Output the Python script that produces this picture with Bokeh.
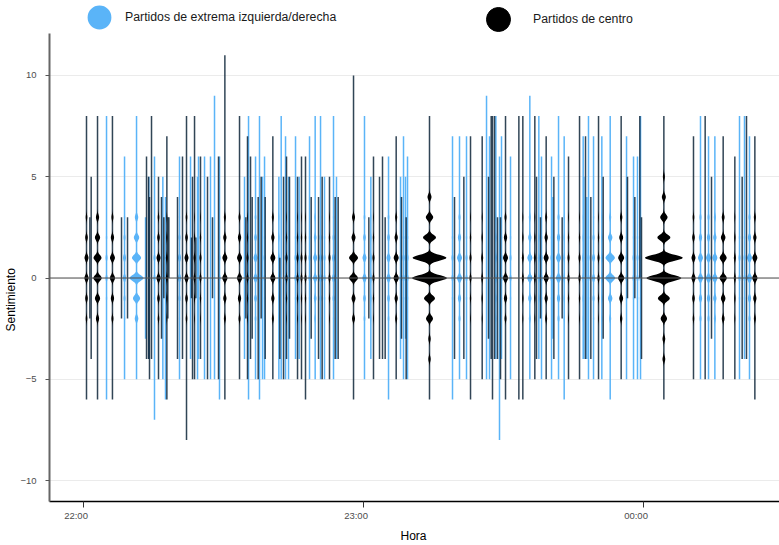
import math
from bokeh.plotting import figure
from bokeh.models import (FixedTicker, LinearAxis, Span, Legend, LegendItem,
                          Range1d, Grid, Title)
from bokeh.embed import file_html
from bokeh.resources import INLINE

# minutes after 22:00, highest sentiment, lowest sentiment, peak weight
dark_t = [0.64,1.64,1.36,3.0,6.2,8.14,9.43,13.5,13.93,14.14,14.57,16.07,16.71,17.21,17.86,18.07,18.29,20.14,21.21,22.07,23.14,23.36,23.79,24.07,25.07,26.57,27.64,28.93,30.29,33.43,34.79,35.14,35.79,36.14,37.43,38.07,38.93,40.57,42.07,42.86,43.5,44.14,45.86,46.71,47.57,48.79,50.36,51.14,52.71,53.93,54.57,57.86,61.14,62.14,63.43,64.07,64.64,67.0,68.14,69.14,74.14,79.5,81.5,82.93,85.43,86.79,87.36,87.64,88.07,88.71,89.36,90.43,93.29,94.14,96.71,97.07,97.93,99.14,100.79,102.57,103.93,106.29,107.57,108.71,110.36,111.36,115.21,116.57,118.14,119.21,119.57,124.36,130.71,133.21,134.57,137.07,139.57,141.14,142.07,143.86]
dark_max = [8,5,3,8,8,3,3,6,5,4,8,5,4,3,7,3,3,4,6,8,2,5,8,2,6,5,3,6,11,8,3,7,6,4,4,5,4,7,1,5,6,5,5,6,6,4,4,5,5,4,4,10,3,6,5,6,3,7,4,3,8,4,5,7,7,5,8,8,8,3,3,8,8,8,8,5,3,7,5,3,6,8,7,4,8,5,8,5,4,8,3,8,7,8,5,7,6,5,8,7]
dark_min = [-6,-4,-2,-6,-6,-2,-2,-4,-4,-5,-4,-5,-3,-1,-6,-2,0,-4,-4,-8,-1,-5,-5,-1,-4,-5,-1,-5,-6,-5,-2,-5,-4,-3,-5,-2,-4,-5,-4,-5,-4,-3,-5,-5,-6,-3,-4,-5,-5,-4,-4,-6,-2,-5,-4,-4,-4,-5,-3,-5,-6,-4,-4,-6,-5,-3,-4,-6,-4,-4,-5,-6,-6,-6,-5,-4,-2,-5,-4,-2,-5,-5,-4,-4,-5,-3,-5,-1,-1,0,-4,-6,-5,-5,-3,-5,-5,-4,-4,-6]
dark_w = [2,0,0,4,2.5,0,0,0,0,0,0,2,0,0,1,0,0,0,0,2,0,0,1,0,1,0,0,0,2.5,2.5,0,1,0,0,0,0,0,2.5,0,0,1,0,1,1,1,0,0,0,1,0,0,3,0,1,0,0,0,2.5,0,0,3,0,0,1,1,0,0,0,0,0,0,2.5,0,1,1,0,0,2.5,0,0,1,1,0,0,1,0,3,0,0,0,0,3,2,0,0,3.5,1,0,0,2.5]

blue_t = [4.93,8.79,11.36,13.29,14.0,15.21,17.0,17.57,20.57,22.93,24.43,24.64,25.93,27.21,28.07,29.14,34.5,35.36,36.86,37.71,38.36,38.79,41.86,42.36,43.29,43.93,45.43,46.21,48.43,49.64,50.79,51.64,53.57,54.21,60.21,61.57,65.36,67.93,68.57,69.0,69.43,79.07,80.57,82.07,86.36,87.0,88.36,89.14,89.57,91.5,95.64,97.57,98.14,100.29,100.57,101.79,103.0,107.07,107.21,107.86,108.21,109.29,111.07,112.86,116.36,117.86,118.71,119.36,132.21,133.93,135.29,140.57,141.64,142.71]
blue_max = [8,6,8,3,5,6,5,4,6,6,5,6,6,6,9,6,5,8,6,8,5,6,5,8,7,5,7,5,7,8,8,5,8,5,8,5,6,5,7,5,6,7,7,7,9,7,8,6,7,6,9,8,6,6,4,8,7,7,5,4,8,7,7,8,7,6,6,8,8,7,7,8,8,7]
blue_min = [-6,-5,-5,-3,-4,-7,-5,-6,-5,-4,-5,-4,-5,-5,-5,-6,-4,-6,-5,-6,-5,-5,-5,-5,-5,-5,-4,-4,-5,-5,-5,-5,-5,-4,-5,-4,-6,-4,-5,-3,-5,-6,-5,-5,-5,-5,-4,-8,-4,-5,-5,-4,-5,-5,-3,-5,-6,-4,-4,-4,-5,-5,-5,-6,-5,-5,-5,-5,-5,-5,-5,-5,-4,-5]
blue_w = [1,1.5,4,0,0,1,0,1,1.5,0,0,0,0,0,0,1,0,0,2,0,0,1,1,0,1,1,1,1,1,2,1.5,1,1.5,0,2,1,2,1,1,1,1,1,2.5,1,0,0,1,0,1,1,2.5,1,1,1,0,2.5,1,1,0,0,1,1.5,1,3,1,1,1,1,2.5,2.5,2.5,1,1,2.5]

# half-widths in pixels of the widest violins, by sentiment value
wide_dark = {
    57.86: {1: 4.5, 0: 4.5, 2: 2, -1: 2, 3: 1.5, -2: 1.5},
    74.14: {1: 17, 0: 17.5, 2: 6.5, 3: 3.7, 4: 2, -1: 5.5, -2: 3.5, -3: 1.2, -4: 1.2},
    124.36: {1: 19, 0: 17.5, 2: 6.5, 3: 3.7, 4: 2, 5: 1, -1: 6, -2: 3.2, -3: 1.4, -4: 1.4},
}
wide_blue = {
    11.36: {0: 7, 1: 4.6, -1: 3.6, 2: 2.7, 3: 1.7, -2: 1.8},
    112.86: {0: 5, 1: 4.7, -1: 2.2, 2: 2.2, 3: 1, -2: 1},
}
base_profile = {1: 1.0, 0: 1.05, -1: 0.65, 2: 0.65, 3: 0.4, -2: 0.4}

legend_labels = ["Partidos de extrema izquierda/derecha", "Partidos de centro"]
hour_labels = ["22:00", "23:00", "00:00"]
hour_ticks = [0, 60, 120]
sent_ticks = [-10, -5, 0, 5, 10]
y_title = "Sentimiento"
x_title = "Hora"

BLUE = "#5AB4F8"
NAVY = "#0d2438"
PX_PER_MIN = 280 / 60
SIGMA = 0.14
LABEL_SHIFT = 1.6

p = figure(width=779, height=545, output_backend="svg", toolbar_location=None,
           x_range=Range1d(-7.29, 149.14), y_range=Range1d(-11.03, 13.70),
           min_border_left=49, min_border_right=0, min_border_top=0, min_border_bottom=43,
           outline_line_color=None, background_fill_color="white",
           x_axis_type=None, y_axis_type=None)


def peaks(t, hi, lo, w, wide):
    xs, ys = [], []
    prof = wide.get(t) or {k: v * w for k, v in base_profile.items()}
    for k, half in prof.items():
        if half <= 0 or k > hi or k < lo:
            continue
        steps = [i / 10 * 0.45 for i in range(-10, 11)]
        hw = [half / PX_PER_MIN * math.exp(-s * s / (2 * SIGMA * SIGMA)) for s in steps]
        xs.append([t + h for h in hw] + [t - h for h in reversed(hw)])
        ys.append([k + s for s in steps] + [k + s for s in reversed(steps)])
    return xs, ys


def draw(ts, his, los, ws, wide, line_color, line_alpha, peak_color):
    p.segment(x0=ts, x1=ts, y0=los, y1=his, line_color=line_color, line_width=1.5, line_alpha=line_alpha)
    xs, ys = [], []
    for t, hi, lo, w in zip(ts, his, los, ws):
        a, b = peaks(t, hi, lo, w, wide)
        xs += a
        ys += b
    p.patches(xs, ys, fill_color=peak_color, line_color=None)


draw(blue_t, blue_max, blue_min, blue_w, wide_blue, BLUE, 1.0, BLUE)
draw(dark_t, dark_max, dark_min, dark_w, wide_dark, NAVY, 0.85, "#000000")

p.add_layout(Span(location=0, dimension="width", line_color="#555555", line_width=1.5, line_alpha=0.7))

ytick = FixedTicker(ticks=sent_ticks)
yaxis = LinearAxis(ticker=ytick, bounds=(-11.03, 12.07),
                   major_label_text_font="Liberation Sans", major_label_text_font_size="9.5px",
                   major_label_text_color="#4d4d4d", major_label_standoff=9,
                   axis_line_color="#666666", axis_line_width=2,
                   major_tick_line_color="#555555", major_tick_out=4, major_tick_in=0,
                   minor_tick_line_color=None)
p.add_layout(yaxis, "left")
p.add_layout(Grid(dimension=1, ticker=ytick, grid_line_color="#ebebeb", grid_line_width=1.2))

p.add_layout(Title(text=y_title, align="left", offset=170, standoff=0, text_font="Liberation Sans",
                   text_font_size="12px", text_font_style="normal", text_color="#000000"), "left")

xaxis = LinearAxis(ticker=FixedTicker(ticks=hour_ticks),
                   major_label_overrides={t: "" for t in hour_ticks},
                   major_label_text_font_size="1px", major_label_standoff=0,
                   axis_line_color="#000000", axis_line_width=1.4,
                   major_tick_line_color="#333333", major_tick_out=6, major_tick_in=0,
                   minor_tick_line_color=None)
p.add_layout(xaxis, "below")

label_ticks = [t - LABEL_SHIFT for t in hour_ticks]
xlabels = LinearAxis(ticker=FixedTicker(ticks=label_ticks),
                     major_label_overrides=dict(zip(label_ticks, hour_labels)),
                     major_label_text_font="Liberation Sans", major_label_text_font_size="9.5px",
                     major_label_text_color="#4d4d4d", major_label_standoff=2,
                     axis_line_color=None, major_tick_line_color=None,
                     major_tick_out=0, major_tick_in=0, minor_tick_line_color=None)
p.add_layout(xlabels, "below")

p.add_layout(Title(text=x_title, align="left", offset=351, standoff=6, text_font="Liberation Sans",
                   text_font_size="12px", text_font_style="normal", text_color="#000000"), "below")

r_blue = p.scatter(x=[0], y=[100], size=24, fill_color=BLUE, line_color=BLUE, line_width=3)
r_dark = p.scatter(x=[0], y=[100], size=24, fill_color="#000000", line_color="#000000")

for lab, rend, loc, standoff, gw in [(legend_labels[0], r_blue, (24, 454.5), 0, 52),
                                     (legend_labels[1], r_dark, (419, 452.5), 5, 60)]:
    leg = Legend(items=[LegendItem(label=lab, renderers=[rend])], location=loc,
                 glyph_width=gw, glyph_height=60, label_standoff=standoff,
                 label_text_font="Liberation Sans", label_text_font_size="12.3px",
                 label_text_color="#1a1a1a", border_line_color=None,
                 background_fill_alpha=0, padding=0, margin=0)
    p.add_layout(leg, "center")

open("out.html", "w").write(file_html(p, INLINE))
